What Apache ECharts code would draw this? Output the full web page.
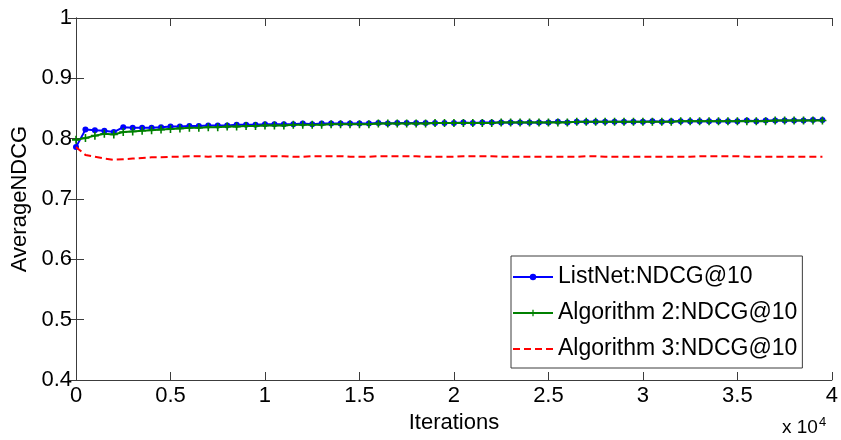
<!DOCTYPE html>
<html>
<head>
<meta charset="utf-8">
<script src="https://cdn.jsdelivr.net/npm/echarts@6/dist/echarts.min.js"></script>
<style>html,body{margin:0;padding:0;background:#fff}#c{width:841px;height:440px}</style>
</head>
<body>
<div id="c"></div>
<script>
const iterations = [0,500,1000,1500,2000,2500,3000,3500,4000,4500,5000,5500,6000,6500,7000,7500,8000,8500,9000,9500,
10000,10500,11000,11500,12000,12500,13000,13500,14000,14500,15000,15500,16000,16500,17000,17500,18000,18500,19000,19500,
20000,20500,21000,21500,22000,22500,23000,23500,24000,24500,25000,25500,26000,26500,27000,27500,28000,28500,29000,29500,
30000,30500,31000,31500,32000,32500,33000,33500,34000,34500,35000,35500,36000,36500,37000,37500,38000,38500,39000,39500];

const listNet = [0.786,0.815,0.814,0.813,0.811,0.819,0.818,0.818,0.818,0.819,
0.820,0.820,0.821,0.821,0.822,0.822,0.822,0.823,0.823,0.823,
0.824,0.824,0.824,0.824,0.825,0.824,0.825,0.825,0.825,0.825,
0.825,0.825,0.826,0.825,0.826,0.826,0.826,0.826,0.826,0.826,
0.826,0.827,0.826,0.827,0.827,0.827,0.827,0.827,0.827,0.827,
0.827,0.828,0.827,0.828,0.828,0.828,0.828,0.828,0.828,0.828,
0.828,0.829,0.828,0.829,0.829,0.829,0.829,0.829,0.829,0.829,
0.829,0.830,0.829,0.830,0.830,0.830,0.830,0.830,0.831,0.831];

const algo2 = [0.798,0.801,0.805,0.808,0.807,0.811,0.812,0.813,0.814,0.815,
0.816,0.817,0.818,0.818,0.819,0.819,0.820,0.820,0.821,0.821,
0.822,0.822,0.822,0.823,0.823,0.823,0.823,0.824,0.824,0.824,
0.824,0.824,0.825,0.825,0.825,0.825,0.825,0.825,0.826,0.826,
0.826,0.826,0.826,0.826,0.826,0.827,0.827,0.827,0.827,0.827,
0.827,0.827,0.827,0.828,0.828,0.828,0.828,0.828,0.828,0.828,
0.828,0.828,0.828,0.828,0.829,0.829,0.829,0.829,0.829,0.829,
0.829,0.829,0.829,0.829,0.830,0.830,0.830,0.830,0.830,0.830];

const algo3 = [0.786,0.773,0.770,0.767,0.765,0.766,0.767,0.768,0.769,0.769,
0.770,0.770,0.771,0.771,0.770,0.771,0.771,0.770,0.770,0.771,
0.771,0.771,0.771,0.770,0.770,0.771,0.771,0.771,0.771,0.770,
0.770,0.770,0.771,0.771,0.771,0.771,0.771,0.770,0.770,0.770,
0.770,0.771,0.771,0.771,0.771,0.770,0.770,0.770,0.770,0.770,
0.770,0.770,0.770,0.770,0.771,0.771,0.770,0.770,0.770,0.770,
0.770,0.770,0.770,0.770,0.770,0.770,0.771,0.771,0.771,0.771,
0.771,0.770,0.770,0.770,0.770,0.770,0.770,0.770,0.770,0.770];

const seriesNames = ['ListNet:NDCG@10','Algorithm 2:NDCG@10','Algorithm 3:NDCG@10'];
const xTickLabels = ['0','0.5','1','1.5','2','2.5','3','3.5','4'];
const xAxisName = 'Iterations';
const yAxisName = 'AverageNDCG';

const pair = (ys) => iterations.map((x, i) => [x, ys[i]]);
const FONT = '"Liberation Sans", Arial, sans-serif';
const axisColor = '#3c3c3c';
const plus = 'path://M4,0H6V4H10V6H6V10H4V6H0V4H4Z';

const chart = echarts.init(document.getElementById('c'), null, {renderer: 'canvas'});
const baseX = {
  type: 'value', min: 0, max: 40000, interval: 5000,
  axisLine: {show: true, lineStyle: {color: axisColor, width: 1}},
  axisTick: {show: true, inside: true, length: 8, lineStyle: {color: axisColor}},
  splitLine: {show: false}
};
const baseY = {
  type: 'value', min: 0.4, max: 1, interval: 0.1,
  axisLine: {show: true, lineStyle: {color: axisColor, width: 1}},
  axisTick: {show: true, inside: true, length: 8, lineStyle: {color: axisColor}},
  splitLine: {show: false}
};
chart.setOption({
  animation: false,
  backgroundColor: '#fff',
  textStyle: {fontFamily: FONT},
  grid: {left: 76, top: 18, right: 8, bottom: 60, containLabel: false},
  xAxis: [
    Object.assign({}, baseX, {
      position: 'bottom',
      name: xAxisName, nameLocation: 'middle', nameGap: 30,
      nameTextStyle: {fontSize: 22, color: '#000', fontFamily: FONT},
      axisLabel: {show: true, margin: 5, fontSize: 22, color: '#000', fontFamily: FONT,
        formatter: (v) => xTickLabels[Math.round(v / 5000)]}
    }),
    Object.assign({}, baseX, {position: 'top', axisLabel: {show: false}})
  ],
  yAxis: [
    Object.assign({}, baseY, {
      position: 'left',
      name: yAxisName, nameLocation: 'middle', nameGap: 38, nameRotate: 90,
      nameTextStyle: {fontSize: 22, color: '#000', fontFamily: FONT},
      axisLabel: {show: true, margin: 4, fontSize: 22, color: '#000', fontFamily: FONT,
        formatter: (v) => String(Math.round(v * 10) / 10)}
    }),
    Object.assign({}, baseY, {position: 'right', axisLabel: {show: false}})
  ],
  legend: {
    data: [
      {name: seriesNames[0]},
      {name: seriesNames[1]},
      {name: seriesNames[2], itemStyle: {opacity: 0}}
    ],
    orient: 'vertical',
    left: 511, top: 256,
    padding: [9, 5, 7, 1],
    itemWidth: 40, itemHeight: 8, itemGap: 12,
    backgroundColor: '#fff',
    borderColor: axisColor, borderWidth: 1,
    textStyle: {fontSize: 23, color: '#000', fontFamily: FONT, lineHeight: 24}
  },
  graphic: [{
    type: 'text', left: 782, top: 416,
    style: {
      text: 'x 10{s|4}',
      fontSize: 19, fill: '#000', fontFamily: FONT,
      rich: {s: {fontSize: 13, verticalAlign: 'top', padding: [0, 0, 10, 1], fontFamily: FONT}}
    }
  }],
  series: [
    {
      name: seriesNames[0], type: 'line', data: pair(listNet),
      symbol: 'circle', symbolSize: 6, showSymbol: true, showAllSymbol: true,
      lineStyle: {color: '#0000ff', width: 2},
      itemStyle: {color: '#0000ff'},
      z: 2
    },
    {
      name: seriesNames[1], type: 'line', data: pair(algo2),
      symbol: plus, symbolSize: 8, showSymbol: true, showAllSymbol: true,
      lineStyle: {color: '#008000', width: 2},
      itemStyle: {color: '#008000'},
      z: 3
    },
    {
      name: seriesNames[2], type: 'line', data: pair(algo3),
      symbol: 'none', showSymbol: false,
      lineStyle: {color: '#ff0000', width: 2, type: [7, 4]},
      itemStyle: {color: '#ff0000'},
      z: 4
    }
  ]
});
</script>
</body>
</html>
